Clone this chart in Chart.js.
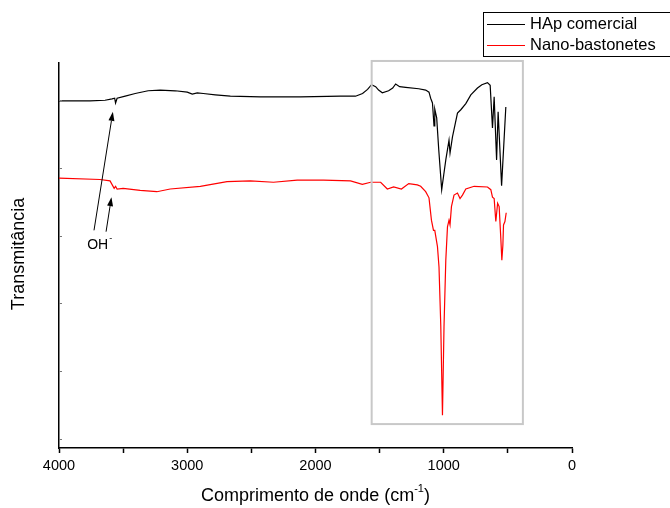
<!DOCTYPE html>
<html>
<head>
<meta charset="utf-8">
<script src="https://cdn.jsdelivr.net/npm/chart.js@4"></script>
<style>
  html, body { margin: 0; padding: 0; background: #fff; }
  #wrap { width: 670px; height: 508px; }
</style>
</head>
<body>
<div id="wrap"><canvas id="ftir" width="670" height="508"></canvas></div>
<script>
// Espectros FTIR (transmitância em unidades arbitrárias)
const hapWavenumbers = [4000, 3758, 3641, 3586, 3566, 3559, 3547, 3484, 3406, 3305, 3211, 3094, 3000, 2961, 2922, 2875, 2781, 2664, 2430, 2117, 1805, 1688, 1633, 1594, 1563, 1531, 1508, 1479, 1430, 1398, 1375, 1344, 1297, 1195, 1141, 1115, 1102, 1088, 1076, 1070, 1055, 1039, 1016, 1000, 984, 959, 951, 932, 893, 867, 828, 789, 737, 703, 659, 638, 620, 607, 588, 576, 549, 516];
const hapValues = [4.99, 4.99, 5.00, 5.02, 5.03, 4.96, 5.03, 5.06, 5.10, 5.14, 5.15, 5.14, 5.12, 5.09, 5.11, 5.10, 5.08, 5.06, 5.05, 5.05, 5.06, 5.06, 5.10, 5.16, 5.23, 5.20, 5.15, 5.11, 5.14, 5.18, 5.24, 5.20, 5.19, 5.17, 5.15, 5.12, 5.03, 4.96, 4.62, 4.87, 4.74, 4.27, 3.68, 3.90, 4.12, 4.41, 4.22, 4.46, 4.81, 4.86, 4.95, 5.08, 5.18, 5.23, 5.26, 5.22, 4.59, 5.05, 4.12, 4.83, 3.74, 4.90];

const nanoWavenumbers = [4000, 3680, 3602, 3570, 3559, 3547, 3500, 3367, 3237, 3133, 2898, 2690, 2508, 2328, 2143, 1938, 1727, 1635, 1570, 1492, 1440, 1391, 1330, 1273, 1206, 1180, 1141, 1115, 1096, 1080, 1070, 1049, 1037, 1023, 1010, 998, 984, 971, 959, 951, 940, 920, 893, 873, 854, 828, 763, 659, 633, 620, 607, 594, 580, 568, 555, 547, 539, 534, 523, 513];
const nanoValues = [3.85, 3.83, 3.81, 3.70, 3.73, 3.69, 3.70, 3.67, 3.65, 3.69, 3.73, 3.80, 3.81, 3.79, 3.82, 3.82, 3.81, 3.76, 3.79, 3.79, 3.69, 3.72, 3.69, 3.77, 3.75, 3.73, 3.65, 3.56, 3.23, 3.08, 3.08, 2.84, 2.54, 1.66, 0.35, 1.66, 2.64, 3.13, 3.23, 3.16, 3.43, 3.60, 3.63, 3.55, 3.60, 3.69, 3.73, 3.72, 3.68, 3.57, 3.55, 3.21, 3.48, 3.43, 2.96, 2.64, 2.86, 3.16, 3.21, 3.34];

const xTickLabels = [4000, 3000, 2000, 1000, 0];
const yTickValues = [0, 1, 2, 3, 4, 5];
const seriesNames = ['HAp comercial', 'Nano-bastonetes'];
const seriesColors = ['#000000', '#ff0000'];

const FONT = '"Liberation Sans", Arial, sans-serif';

function toPoints(xs, ys) {
    return xs.map((v, i) => ({ x: v, y: ys[i] }));
}

function drawArrow(ctx, x0, y0, x1, y1) {
    const ang = Math.atan2(y1 - y0, x1 - x0);
    const len = 9, half = 3;
    ctx.beginPath();
    ctx.moveTo(x0, y0);
    ctx.lineTo(x1 - Math.cos(ang) * len, y1 - Math.sin(ang) * len);
    ctx.stroke();
    ctx.beginPath();
    ctx.moveTo(x1, y1);
    ctx.lineTo(x1 - Math.cos(ang) * len - Math.sin(ang) * half, y1 - Math.sin(ang) * len + Math.cos(ang) * half);
    ctx.lineTo(x1 - Math.cos(ang) * len + Math.sin(ang) * half, y1 - Math.sin(ang) * len - Math.cos(ang) * half);
    ctx.closePath();
    ctx.fill();
}

// caixa cinza, setas OH-, títulos e legenda
const overlay = {
    id: 'overlay',
    afterDatasetsDraw(chart) {
        const { ctx, scales: { x, y } } = chart;
        ctx.save();

        // região destacada
        ctx.strokeStyle = '#c8c8c8';
        ctx.lineWidth = 2;
        const bx0 = x.getPixelForValue(1562), bx1 = x.getPixelForValue(383);
        const by0 = y.getPixelForValue(5.58), by1 = y.getPixelForValue(0.22);
        ctx.strokeRect(bx0, by0, bx1 - bx0, by1 - by0);

        // setas
        ctx.strokeStyle = '#000';
        ctx.fillStyle = '#000';
        ctx.lineWidth = 1;
        drawArrow(ctx, x.getPixelForValue(3727), y.getPixelForValue(3.08), x.getPixelForValue(3580), y.getPixelForValue(4.83));
        drawArrow(ctx, x.getPixelForValue(3633), y.getPixelForValue(3.06), x.getPixelForValue(3591), y.getPixelForValue(3.57));

        // rótulo OH-
        ctx.font = '14px ' + FONT;
        ctx.textBaseline = 'middle';
        ctx.textAlign = 'left';
        const ox = x.getPixelForValue(3780), oy = y.getPixelForValue(2.86);
        ctx.fillText('OH', ox, oy);
        const ow = ctx.measureText('OH').width;
        ctx.font = '9px ' + FONT;
        ctx.fillText('-', ox + ow + 1, oy - 7);

        // marcas do eixo y (para dentro)
        ctx.strokeStyle = '#777';
        ctx.lineWidth = 1;
        yTickValues.forEach(v => {
            const py = Math.round(y.getPixelForValue(v)) + 0.5;
            ctx.beginPath();
            ctx.moveTo(x.left, py);
            ctx.lineTo(x.left + 3, py);
            ctx.stroke();
        });
        ctx.restore();
    },
    afterDraw(chart) {
        const { ctx, chartArea } = chart;
        ctx.save();
        ctx.fillStyle = '#000';

        // título do eixo x com sobrescrito
        const main = 'Comprimento de onde (cm';
        const sup = '-1';
        const close = ')';
        ctx.font = '18px ' + FONT;
        const w1 = ctx.measureText(main).width;
        const w3 = ctx.measureText(close).width;
        ctx.font = '11px ' + FONT;
        const w2 = ctx.measureText(sup).width;
        const total = w1 + w2 + w3;
        const cx = (chartArea.left + chartArea.right) / 2;
        let tx = cx - total / 2;
        const ty = 496;
        ctx.textBaseline = 'middle';
        ctx.textAlign = 'left';
        ctx.font = '18px ' + FONT;
        ctx.fillText(main, tx, ty);
        ctx.font = '11px ' + FONT;
        ctx.fillText(sup, tx + w1, ty - 7);
        ctx.font = '18px ' + FONT;
        ctx.fillText(close, tx + w1 + w2, ty);

        // título do eixo y
        ctx.save();
        ctx.translate(19, 254);
        ctx.rotate(-Math.PI / 2);
        ctx.textAlign = 'center';
        ctx.font = '18px ' + FONT;
        ctx.fillText('Transmitância', 0, 0);
        ctx.restore();

        // legenda
        ctx.strokeStyle = '#000';
        ctx.lineWidth = 1;
        ctx.strokeRect(483.5, 12.5, 200, 44);
        ctx.font = '16.5px ' + FONT;
        ctx.textBaseline = 'middle';
        seriesNames.forEach((name, i) => {
            const ly = 24 + i * 21;
            ctx.strokeStyle = seriesColors[i];
            ctx.beginPath();
            ctx.moveTo(487, ly + 0.5);
            ctx.lineTo(525, ly + 0.5);
            ctx.stroke();
            ctx.fillStyle = '#000';
            ctx.fillText(name, 530, ly);
        });
        ctx.restore();
    }
};

new Chart(document.getElementById('ftir'), {
    type: 'line',
    data: {
        datasets: [
            {
                label: seriesNames[0],
                data: toPoints(hapWavenumbers, hapValues),
                borderColor: seriesColors[0],
                borderWidth: 1.2,
                pointRadius: 0,
                tension: 0
            },
            {
                label: seriesNames[1],
                data: toPoints(nanoWavenumbers, nanoValues),
                borderColor: seriesColors[1],
                borderWidth: 1.2,
                pointRadius: 0,
                tension: 0
            }
        ]
    },
    options: {
        responsive: false,
        animation: false,
        layout: { padding: { left: 59, top: 63, right: 98, bottom: 0 } },
        plugins: {
            legend: { display: false },
            tooltip: { enabled: false }
        },
        scales: {
            x: {
                type: 'linear',
                reverse: true,
                min: 0,
                max: 4000,
                afterFit: (scale) => { scale.height = 60; },
                afterBuildTicks: (scale) => {
                    scale.ticks = [4000, 3500, 3000, 2500, 2000, 1500, 1000, 500, 0].map(v => ({ value: v }));
                },
                ticks: {
                    color: '#000',
                    font: { family: FONT, size: 14.5 },
                    padding: 4,
                    maxRotation: 0,
                    autoSkip: false,
                    callback: (v) => xTickLabels.includes(v) ? String(v) : ''
                },
                grid: {
                    display: true,
                    drawOnChartArea: false,
                    drawTicks: true,
                    tickLength: 5,
                    color: '#000',
                    tickWidth: 1.5
                },
                border: { display: true, color: '#000', width: 1.5 }
            },
            y: {
                min: -0.133,
                max: 5.55,
                afterFit: (scale) => { scale.width = 0; },
                ticks: { display: false },
                grid: { display: false },
                border: { display: true, color: '#000', width: 1.5 }
            }
        }
    },
    plugins: [overlay]
});
</script>
</body>
</html>
